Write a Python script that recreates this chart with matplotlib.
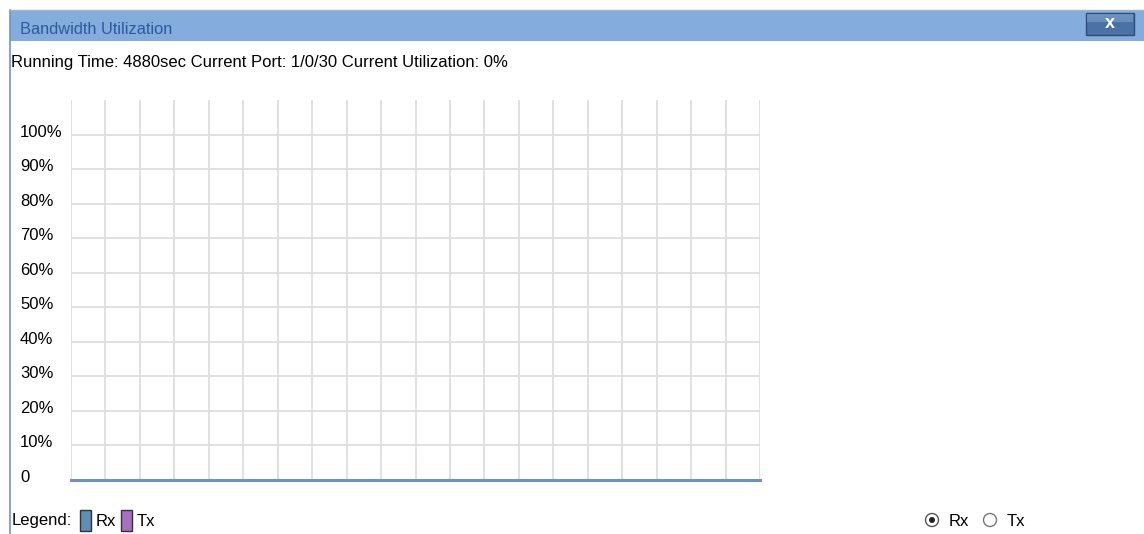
import matplotlib.pyplot as plt
from matplotlib.patches import Rectangle, Circle
import numpy as np

plt.rcParams['font.family'] = ['Liberation Sans', 'DejaVu Sans']

title = "Bandwidth Utilization"
status = "Running Time: 4880sec Current Port: 1/0/30 Current Utilization: 0%"
ticks = [0, 10, 20, 30, 40, 50, 60, 70, 80, 90, 100]
tick_labels = ["0"] + ["%d%%" % t for t in ticks[1:]]
samples = list(range(21))
rx = [0] * 21
tx = [0] * 21

W, H = 1144, 534
fs = 12
fig = plt.figure(figsize=(W / 100, H / 100), dpi=100)

# window chrome
bg = fig.add_axes([0, 0, 1, 1])
bg.set_xlim(0, W)
bg.set_ylim(H, 0)
bg.axis("off")
bg.add_patch(Rectangle((10, 10), W - 10, 31, facecolor="#84acdd", edgecolor="none"))
bg.plot([10, 10], [10, H], color="#6e95c4", lw=1.2)
bg.plot([10, W], [10, 10], color="#9ab5d6", lw=1)
bg.text(20, 29, title, fontsize=11.8, color="#2b5b9c", va="center")
bg.add_patch(Rectangle((1086, 13), 48, 22, facecolor="#4a72a4", edgecolor="#2c4d7a", lw=1))
bg.add_patch(Rectangle((1087, 14), 46, 8, facecolor="#6a8fbd", edgecolor="none"))
bg.text(1110, 23, "x", fontsize=13, color="white", fontweight="bold", ha="center", va="center")
bg.text(11, 62, status, fontsize=fs, color="black", va="center")

# legend row
bg.text(12, 521, "Legend:", fontsize=fs, va="center")
bg.add_patch(Rectangle((80, 510), 11, 21, facecolor="#5e8db8", edgecolor="#333333", lw=1))
bg.text(96, 521, "Rx", fontsize=fs, va="center")
bg.add_patch(Rectangle((121, 510), 11, 21, facecolor="#a66fc0", edgecolor="#333333", lw=1))
bg.text(137, 521, "Tx", fontsize=fs, va="center")

# radio buttons
bg.add_patch(Circle((932, 520), 6.5, facecolor="white", edgecolor="#555555", lw=1))
bg.add_patch(Circle((932, 520), 3, facecolor="#222222", edgecolor="none"))
bg.text(949, 521, "Rx", fontsize=fs, va="center")
bg.add_patch(Circle((990, 520), 6.5, facecolor="white", edgecolor="#777777", lw=1))
bg.text(1007, 521, "Tx", fontsize=fs, va="center")

# chart area
x0, x1, y0, y1 = 71, 760, 100, 480
ax = fig.add_axes([x0 / W, 1 - y1 / H, (x1 - x0) / W, (y1 - y0) / H])
ax.set_xlim(0, 20)
ax.set_ylim(0, 110)
for s in ax.spines.values():
    s.set_visible(False)
ax.set_xticks([])
ax.set_yticks([])
for i in samples:
    ax.axvline(i, color="#dedede", lw=1.3, zorder=1)
for t in ticks[1:]:
    ax.axhline(t, color="#dedede", lw=1.3, zorder=1)
ax.plot(samples, rx, color="#6c93bd", lw=2.2, zorder=3, clip_on=False)

for t, lab in zip(ticks, tick_labels):
    yy = y1 - (y1 - y0) * t / 110
    bg.text(20, yy + 2, lab, fontsize=fs, va="baseline")

fig.savefig("out.png", dpi=100)
